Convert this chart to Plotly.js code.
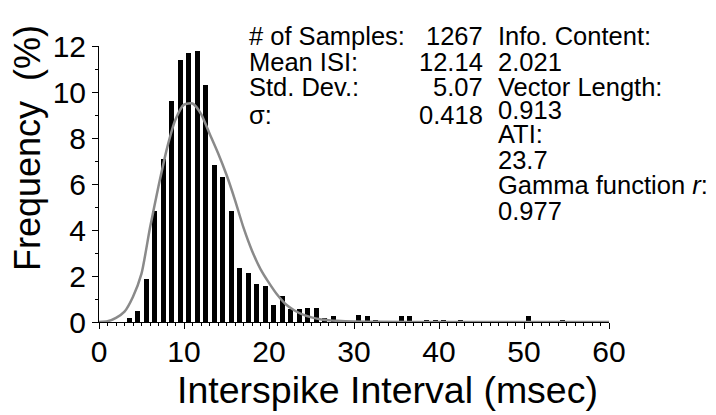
<!DOCTYPE html>
<html>
<head>
<meta charset="utf-8">
<script src="https://cdn.plot.ly/plotly-3.0.1.min.js"></script>
<style>html,body{margin:0;padding:0;background:#fff;}#chart{width:716px;height:415px;}</style>
</head>
<body>
<div id="chart"></div>
<script>
// ---- data ----
// histogram bins (left edge of 1-msec bin) with non-zero frequency (%)
const binStart = [3, 4, 5, 6, 7, 8, 9, 10, 11, 12, 13, 14, 15, 16, 17, 18, 19, 20, 21, 22, 23, 24, 25, 26, 27, 28, 30, 31, 32, 35, 36, 38, 39, 40, 42, 50, 54];
const freqPct  = [0.16, 0.47, 1.85, 4.82, 7.1, 9.61, 11.38, 11.7, 11.8, 10.32, 6.83, 6.3, 4.82, 2.35, 2.13, 1.66, 1.55, 0.73, 1.12, 0.55, 0.55, 0.63, 0.63, 0.16, 0.24, 0.08, 0.32, 0.24, 0.08, 0.24, 0.24, 0.08, 0.08, 0.08, 0.08, 0.24, 0.08];
// fitted gamma curve
const gammaX = [0, 1, 2, 3, 4, 5, 6, 7, 8, 9, 10, 11, 12, 13, 14, 15, 16, 17, 18, 19, 20, 21, 22, 23, 24, 25, 26, 27, 28, 30, 33, 40, 50, 60];
const gammaY = [0, 0.03, 0.18, 0.45, 1.1, 2.1, 4.1, 5.9, 7.55, 8.8, 9.45, 9.5, 9.05, 8.2, 7.35, 6.4, 5.3, 4.1, 3.1, 2.3, 1.7, 1.17, 0.76, 0.5, 0.32, 0.2, 0.12, 0.08, 0.05, 0.02, 0.01, 0, 0, 0];
// statistics text
const statLabels = ["# of Samples:", "Mean ISI:", "Std. Dev.:", "σ:"];
const statValues = ["1267", "12.14", "5.07", "0.418"];
const infoLines  = ["Info. Content:", "2.021", "Vector Length:", "0.913", "ATI:", "23.7", "Gamma function <i>r</i>:", "0.977"];
const xTickVals = [0, 10, 20, 30, 40, 50, 60];
const yTickVals = [0, 2, 4, 6, 8, 10, 12];
const xTitle = "Interspike Interval (msec)";
const yTitle = "Frequency  (%)";

// ---- layout geometry (pixels) ----
const W = 716, H = 415;
const M = {l: 99, r: 107, t: 46, b: 93};
const pw = W - M.l - M.r, ph = H - M.t - M.b;
const px = x => (x - M.l) / pw;
const py = y => 1 - (y - M.t) / ph;
const FONT = "Liberation Sans, Arial, Helvetica, sans-serif";

const barOffset = 0.55;
const bars = {
  type: "bar",
  x: binStart.map(b => b + barOffset),
  y: freqPct,
  width: 0.55,
  marker: {color: "#000000", line: {width: 0}},
  hoverinfo: "x+y"
};
const curve = {
  type: "scatter",
  mode: "lines",
  x: gammaX,
  y: gammaY,
  line: {color: "#8a8a8a", width: 2.5, shape: "spline", smoothing: 0.6},
  cliponaxis: false,
  hoverinfo: "x+y"
};

const ann = [];
const txtFont = {family: FONT, size: 25.5, color: "#000"};
const leftRows = [36, 61.5, 87, 115];
statLabels.forEach((t, i) => ann.push({text: t, xref: "paper", yref: "paper", x: px(247), y: py(leftRows[i]), xanchor: "left", yanchor: "middle", showarrow: false, font: txtFont}));
statValues.forEach((t, i) => ann.push({text: t, xref: "paper", yref: "paper", x: px(485), y: py(leftRows[i]), xanchor: "right", yanchor: "middle", showarrow: false, font: txtFont}));
const rightRows = [36, 61.5, 87, 110, 134, 159.5, 185, 211];
infoLines.forEach((t, i) => ann.push({text: t, xref: "paper", yref: "paper", x: px(496), y: py(rightRows[i]), xanchor: "left", yanchor: "middle", showarrow: false, font: txtFont}));
// axis titles (placed as in the reference)
ann.push({text: xTitle, xref: "paper", yref: "paper", x: px(387), y: py(390), xanchor: "center", yanchor: "middle", showarrow: false, font: {family: FONT, size: 37.5, color: "#000"}});
ann.push({text: yTitle, xref: "paper", yref: "paper", x: px(27), y: py(148), xanchor: "center", yanchor: "middle", textangle: -90, showarrow: false, font: {family: FONT, size: 36, color: "#000"}});

const axisCommon = {
  showline: true, linecolor: "#000", linewidth: 1,
  ticks: "outside", ticklen: 6, tickwidth: 1, tickcolor: "#000",
  showgrid: false, zeroline: false,
  tickfont: {family: FONT, size: 30, color: "#000"},
  fixedrange: true
};

const layout = {
  width: W, height: H,
  margin: M,
  paper_bgcolor: "#fff", plot_bgcolor: "#fff",
  showlegend: false,
  bargap: 0,
  xaxis: Object.assign({}, axisCommon, {
    range: [0, 60], tickmode: "array", tickvals: xTickVals,
    ticklabelstandoff: -3,
    minor: {dtick: 1, tick0: 0, ticks: "outside", ticklen: 3, tickcolor: "#000", tickwidth: 1, showgrid: false}
  }),
  yaxis: Object.assign({}, axisCommon, {
    range: [0, 12], tickmode: "array", tickvals: yTickVals,
    minor: {dtick: 1, tick0: 0, ticks: "outside", ticklen: 3, tickcolor: "#000", tickwidth: 1, showgrid: false}
  }),
  annotations: ann
};

Plotly.newPlot("chart", [bars, curve], layout, {displayModeBar: false, staticPlot: true});
</script>
</body>
</html>
